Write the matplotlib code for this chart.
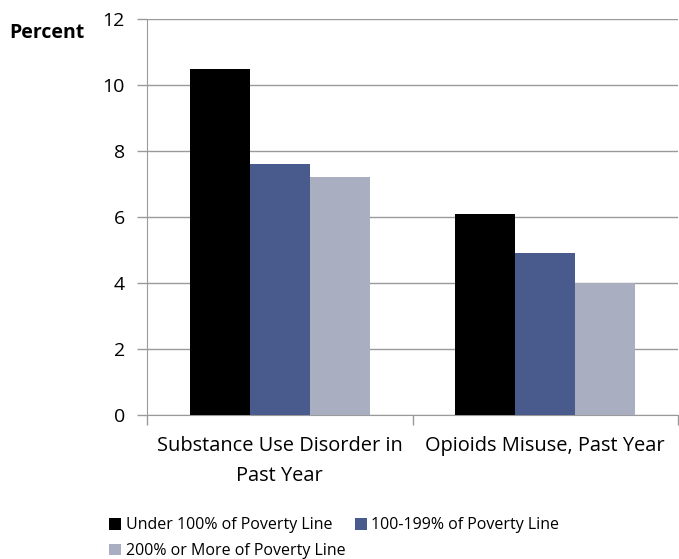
import numpy as np
import matplotlib.pyplot as plt
from matplotlib.ticker import FixedLocator

plt.rcParams['font.family'] = ['Open Sans', 'DejaVu Sans']

categories = ['Substance Use Disorder in\nPast Year', 'Opioids Misuse, Past Year']
series_names = ['Under 100% of Poverty Line', '100-199% of Poverty Line',
                '200% or More of Poverty Line']
under_100 = [10.5, 6.1]
pct_100_199 = [7.6, 4.9]
pct_200_plus = [7.2, 4.0]
colors = ['#000000', '#485b8c', '#a9aec1']

W, H = 679, 559
fig = plt.figure(figsize=(W / 100, H / 100), dpi=100)
ax = fig.add_axes([147 / W, 1 - 415 / H, (678 - 147) / W, (415 - 19) / H])

x = np.arange(len(categories))
width = 0.226
handles = []
for i, vals in enumerate([under_100, pct_100_199, pct_200_plus]):
    b = ax.bar(x + (i - 1) * width, vals, width, color=colors[i],
               label=series_names[i], zorder=3)
    handles.append(b)

ax.set_xlim(-0.5, len(categories) - 0.5)
ax.set_ylim(0, 12)
ax.set_yticks(range(0, 13, 2))
ax.yaxis.grid(True, color='#9a9a9a', linewidth=1, zorder=0)
ax.tick_params(axis='y', length=7, width=1, color='#9a9a9a', labelsize=14, pad=9)

ax.set_xticks(x)
ax.set_xticklabels(categories, fontsize=14.4, linespacing=1.7)
ax.tick_params(axis='x', length=0, pad=15)
ax.xaxis.set_minor_locator(FixedLocator([-0.5, 0.5, 1.5]))
ax.tick_params(axis='x', which='minor', length=7, width=1, color='#9a9a9a')

for s in ['top', 'right']:
    ax.spines[s].set_visible(False)
for s in ['left', 'bottom']:
    ax.spines[s].set_color('#9a9a9a')

fig.text(9 / W, 1 - 33 / H, 'Percent', fontsize=14, fontweight='bold', va='center')

leg = fig.legend([handles[0], handles[2], handles[1]],
                 [series_names[0], series_names[2], series_names[1]],
                 ncol=2, loc='upper left', bbox_to_anchor=(95 / W, 1 - 503 / H),
                 frameon=False, fontsize=11.5, handlelength=0.75, handleheight=0.75,
                 handletextpad=0.3, columnspacing=0.55, labelspacing=0.6)

fig.savefig('out.png', dpi=100)
